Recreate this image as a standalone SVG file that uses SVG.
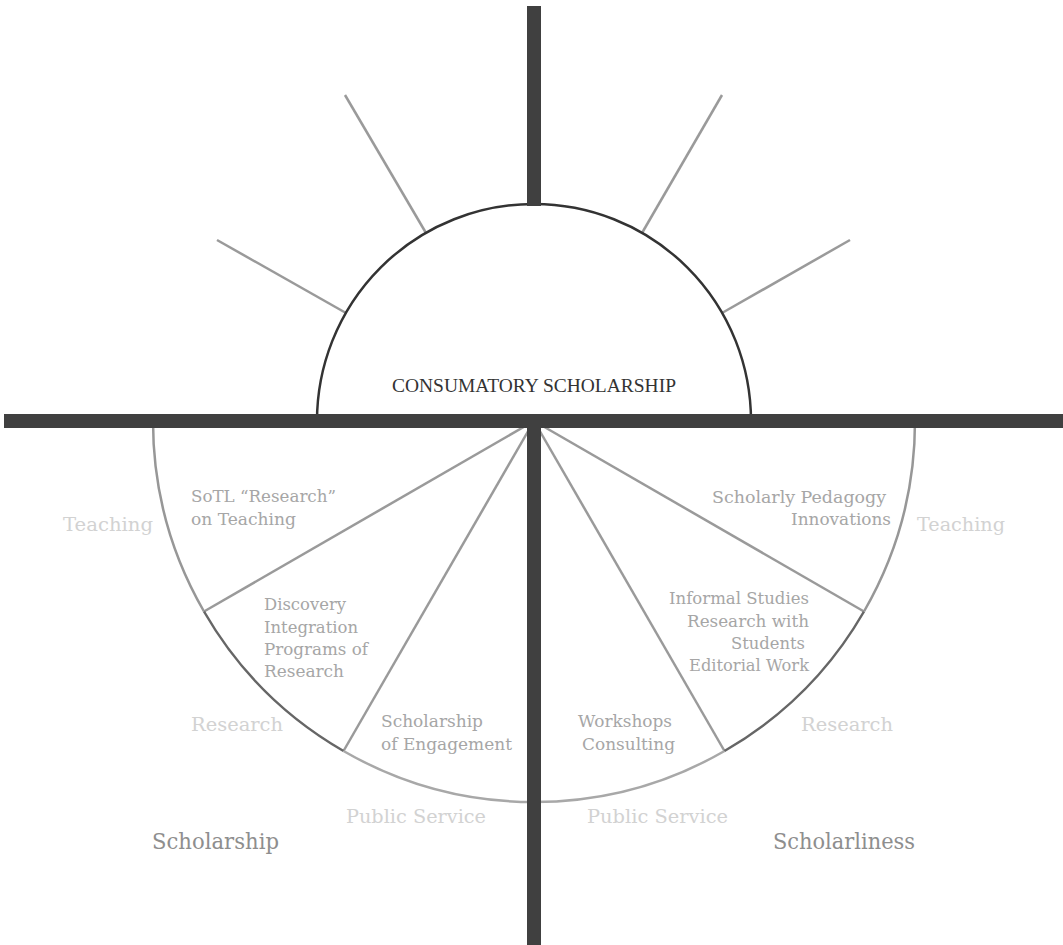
<svg xmlns="http://www.w3.org/2000/svg" width="1063" height="945" viewBox="0 0 1063 945">
  <style>
    .bar { fill: #404040; }
    .ray { stroke: #9a9a9a; stroke-width: 2.5; fill: none; }
    .divider { stroke: #9a9a9a; stroke-width: 2.5; fill: none; }
    .arc-teach { stroke: #979797; stroke-width: 2.5; fill: none; }
    .arc-research { stroke: #666666; stroke-width: 2.5; fill: none; }
    .arc-service { stroke: #a8a8a8; stroke-width: 2.5; fill: none; }
    .hub { stroke: #333333; stroke-width: 2.5; fill: #ffffff; }
    .title { font-family: "Liberation Serif", "Times New Roman", serif; font-size: 19px; fill: #333333; }
    .slab { font-family: "DejaVu Serif", "Liberation Serif", serif; }
    .inner { font-size: 16px; fill: #a6a6a6; }
    .ring { font-size: 19px; fill: #d2d2d2; }
    .side { font-size: 22px; fill: #8e8e8e; }
  </style>

  <rect width="1063" height="945" fill="#ffffff"/>

  <!-- connectors: rays above the hub and sector dividers below -->
  <g id="connectors">
    <line class="ray" x1="217" y1="240" x2="346" y2="313"/>
    <line class="ray" x1="345" y1="95" x2="426" y2="233"/>
    <line class="ray" x1="722" y1="95" x2="642" y2="233"/>
    <line class="ray" x1="850" y1="240" x2="722" y2="313"/>
    <line class="divider" x1="534" y1="421" x2="204" y2="611.5"/>
    <line class="divider" x1="534" y1="421" x2="343.5" y2="751"/>
    <line class="divider" x1="534" y1="421" x2="724.5" y2="751"/>
    <line class="divider" x1="534" y1="421" x2="864" y2="611.5"/>
  </g>

  <!-- lower half-wheel rim, one arc per domain -->
  <g id="wheel">
    <path class="arc-teach" d="M153,421 A381,381 0 0 0 204,611.5"/>
    <path class="arc-research" d="M204,611.5 A381,381 0 0 0 343.5,751"/>
    <path class="arc-service" d="M343.5,751 A381,381 0 0 0 724.5,751"/>
    <path class="arc-research" d="M724.5,751 A381,381 0 0 0 864,611.5"/>
    <path class="arc-teach" d="M864,611.5 A381,381 0 0 0 915,421"/>
  </g>

  <!-- consummatory scholarship hub -->
  <g id="hub">
    <path class="hub" d="M317,421 A217,217 0 0 1 751,421"/>
    <text class="title" x="392" y="392" textLength="284" lengthAdjust="spacingAndGlyphs">CONSUMATORY SCHOLARSHIP</text>
  </g>

  <!-- axes -->
  <g id="axes">
    <rect class="bar" x="527" y="6" width="14" height="200"/>
    <rect class="bar" x="4" y="414" width="1059" height="14"/>
    <rect class="bar" x="527" y="421" width="14" height="524"/>
  </g>

  <!-- scholarship side -->
  <g id="sotl" class="slab inner">
    <text x="191" y="502" textLength="145" lengthAdjust="spacingAndGlyphs">SoTL “Research”</text>
    <text x="191" y="525" textLength="105" lengthAdjust="spacingAndGlyphs">on Teaching</text>
  </g>
  <g id="discovery" class="slab inner">
    <text x="264" y="610" textLength="82" lengthAdjust="spacingAndGlyphs">Discovery</text>
    <text x="264" y="633" textLength="94" lengthAdjust="spacingAndGlyphs">Integration</text>
    <text x="264" y="655" textLength="104" lengthAdjust="spacingAndGlyphs">Programs of</text>
    <text x="264" y="677" textLength="80" lengthAdjust="spacingAndGlyphs">Research</text>
  </g>
  <g id="engagement" class="slab inner">
    <text x="381" y="727" textLength="102" lengthAdjust="spacingAndGlyphs">Scholarship</text>
    <text x="381" y="750" textLength="131" lengthAdjust="spacingAndGlyphs">of Engagement</text>
  </g>

  <!-- scholarliness side -->
  <g id="pedagogy" class="slab inner">
    <text x="712" y="503" textLength="174" lengthAdjust="spacingAndGlyphs">Scholarly Pedagogy</text>
    <text x="791" y="525" textLength="100" lengthAdjust="spacingAndGlyphs">Innovations</text>
  </g>
  <g id="informal" class="slab inner">
    <text x="669" y="604" textLength="140" lengthAdjust="spacingAndGlyphs">Informal Studies</text>
    <text x="687" y="627" textLength="122" lengthAdjust="spacingAndGlyphs">Research with</text>
    <text x="731" y="649" textLength="74" lengthAdjust="spacingAndGlyphs">Students</text>
    <text x="689" y="671" textLength="120" lengthAdjust="spacingAndGlyphs">Editorial Work</text>
  </g>
  <g id="workshops" class="slab inner">
    <text x="578" y="727" textLength="94" lengthAdjust="spacingAndGlyphs">Workshops</text>
    <text x="582" y="750" textLength="93" lengthAdjust="spacingAndGlyphs">Consulting</text>
  </g>

  <!-- domain labels around the rim -->
  <g id="domains" class="slab ring">
    <text x="63" y="531" textLength="90" lengthAdjust="spacingAndGlyphs">Teaching</text>
    <text x="917" y="531" textLength="88" lengthAdjust="spacingAndGlyphs">Teaching</text>
    <text x="191" y="731" textLength="92" lengthAdjust="spacingAndGlyphs">Research</text>
    <text x="801" y="731" textLength="92" lengthAdjust="spacingAndGlyphs">Research</text>
    <text x="346" y="823" textLength="140" lengthAdjust="spacingAndGlyphs">Public Service</text>
    <text x="587" y="823" textLength="141" lengthAdjust="spacingAndGlyphs">Public Service</text>
  </g>

  <!-- side titles -->
  <g id="sides" class="slab side">
    <text x="152" y="849" textLength="127" lengthAdjust="spacingAndGlyphs">Scholarship</text>
    <text x="773" y="849" textLength="142" lengthAdjust="spacingAndGlyphs">Scholarliness</text>
  </g>
</svg>
